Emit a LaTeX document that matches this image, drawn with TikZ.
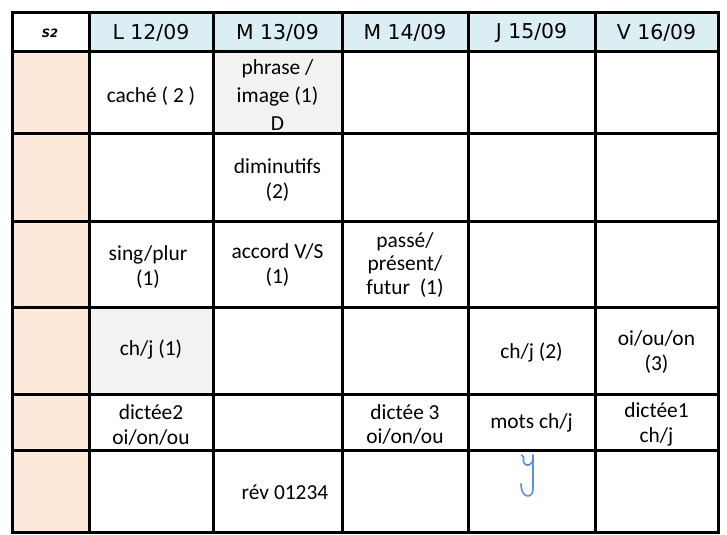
\documentclass[tikz,border=0pt]{standalone}
\usepackage{fontspec}
\setmainfont{Carlito}
\newfontfamily\dayfont{DejaVu Sans}
\definecolor{headblue}{HTML}{DAEEF3}
\definecolor{peach}{HTML}{FDE9D9}
\definecolor{cellgray}{HTML}{F2F2F2}
\definecolor{inkblue}{HTML}{5B8FD3}
\tikzset{
  day/.style={font=\dayfont\fontsize{20.5}{24}\selectfont},
  entry/.style={align=center, font=\fontsize{21.5}{25}\selectfont},
  rule/.style={line width=3bp},
}
\begin{document}
\begin{tikzpicture}[x=1bp,y=-1bp]

\useasboundingbox (0,0) rectangle (727,535);

% fills
\fill [headblue] (89,13) rectangle (718,52);
\fill [peach] (12,52) rectangle (89,532);
\fill [cellgray] (213,52) rectangle (342,134);
\fill [cellgray] (89,307) rectangle (213,394);

% grid
\draw [rule] (12,13) rectangle (718,532);
\draw [rule] (89,13) -- (89,532);
\draw [rule] (213,13) -- (213,532);
\draw [rule] (342,13) -- (342,532);
\draw [rule] (468,13) -- (468,532);
\draw [rule] (595,13) -- (595,532);
\draw [rule] (12,52) -- (718,52);
\draw [rule] (12,134) -- (718,134);
\draw [rule] (12,222) -- (718,222);
\draw [rule] (12,307) -- (718,307);
\draw [rule] (12,394) -- (718,394);
\draw [rule] (12,450) -- (718,450);

% header
\node (week) at (50,33) [font=\dayfont\bfseries\itshape\fontsize{11.5}{14}\selectfont] {S2};
\node (mon) at (151,33) [day] {L 12/09};
\node (tue) at (277.5,33) [day] {M 13/09};
\node (wed) at (405,33) [day] {M 14/09};
\node (thu) at (531.5,33) [day] {J 15/09};
\node (fri) at (656.5,33) [day] {V 16/09};

% entries
\node (cache) at (151,96) [entry] {caché ( 2 )};
\node (phrase) at (277.5,95) [entry, font=\fontsize{21.5}{28}\selectfont] {phrase /\\image (1)\\D};
\node (dimin) at (277.5,180) [entry] {diminutifs\\(2)};
\node (sing) at (148,267) [entry] {sing/plur\\(1)};
\node (accord) at (277.5,265) [entry] {accord V/S\\(1)};
\node (passe) at (405,265) [entry, font=\fontsize{21.5}{23.5}\selectfont] {passé/\\présent/\\futur~~(1)};
\node (chj1) at (151,350) [entry] {ch/j (1)};
\node (chj2) at (531.5,353) [entry] {ch/j (2)};
\node (oiou) at (656.5,352) [entry] {oi/ou/on\\(3)};
\node (dict2) at (151,425) [entry] {dictée2\\oi/on/ou};
\node (dict3) at (405,424.5) [entry] {dictée 3\\oi/on/ou};
\node (mots) at (531.5,423) [entry] {mots ch/j};
\node (dict1) at (656.5,424.5) [entry] {dictée1\\ch/j};
\node (rev) at (285,492) [entry] {rév 01234};

% handwritten mark
\draw [inkblue, line width=1.6bp, line cap=round] (533,455) -- (533,489) .. controls (533,499) and (521,499) .. (521,484);
\draw [inkblue, line width=1.6bp, line cap=round] (521.5,455) .. controls (523,458) and (525,456) .. (523.5,459) .. controls (522.5,463) and (526,466) .. (529,465) .. controls (532,464) and (533,461) .. (533,458);
\end{tikzpicture}
\end{document}
